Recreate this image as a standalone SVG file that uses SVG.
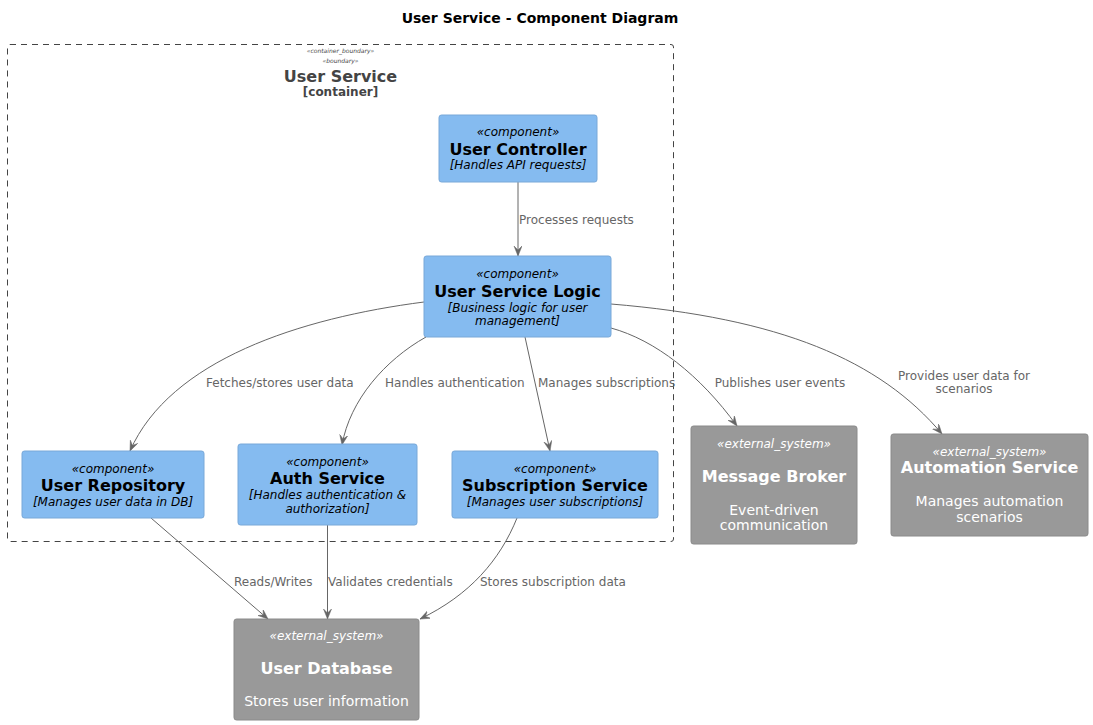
<svg xmlns="http://www.w3.org/2000/svg" width="1093" height="725" viewBox="0 0 1093 725">
<style>
text{font-family:"DejaVu Sans","Liberation Sans",sans-serif}
.comp{fill:#85BBF0;stroke:#78A8D8;stroke-width:1}
.ext{fill:#999999;stroke:#8A8A8A;stroke-width:1}
.st{font-size:12px;font-style:italic;text-anchor:middle}
.nm{font-size:16px;font-weight:bold;text-anchor:middle}
.ds{font-size:12px;font-style:italic;text-anchor:middle}
.dx{font-size:14px;text-anchor:middle}
.b{fill:#000}
.w{fill:#FFFFFF}
.edge{fill:none;stroke:#666666;stroke-width:1}
.lbl{font-size:12px;fill:#666666}
</style>
<defs>
<marker id="arr" markerWidth="11" markerHeight="9" refX="10" refY="4" orient="auto" markerUnits="userSpaceOnUse">
<path d="M0,0 L10,4 L0,8 L4,4 Z" fill="#666666" stroke="#666666" stroke-width="0.5"/>
</marker>
</defs>
<rect width="1093" height="725" fill="#FFFFFF"/>
<text x="540" y="23" style="font-size:14px;font-weight:bold;text-anchor:middle" fill="#000">User Service - Component Diagram</text>

<g id="boundary">
<rect x="7.5" y="44.5" width="666" height="497" rx="2.5" fill="none" stroke="#444444" stroke-dasharray="6,5"/>
<text x="340.5" y="52.5" style="font-size:6px;font-style:italic;text-anchor:middle" fill="#444444">«container_boundary»</text>
<text x="340.5" y="62.5" style="font-size:6px;font-style:italic;text-anchor:middle" fill="#444444">«boundary»</text>
<text x="340.5" y="82" style="font-size:16px;font-weight:bold;text-anchor:middle" fill="#444444">User Service</text>
<text x="340.5" y="96" style="font-size:12px;font-weight:bold;text-anchor:middle" fill="#444444">[container]</text>
</g>

<g id="connectors">
<path class="edge" d="M518,182 L518,256" marker-end="url(#arr)"/>
<text class="lbl" x="519" y="224">Processes requests</text>
<path class="edge" d="M424,302 C300,318 170,360 130,451" marker-end="url(#arr)"/>
<text class="lbl" x="206" y="387">Fetches/stores user data</text>
<path class="edge" d="M426,337 C385,360 350,400 342,445" marker-end="url(#arr)"/>
<text class="lbl" x="385" y="387">Handles authentication</text>
<path class="edge" d="M525,337 L550,451" marker-end="url(#arr)"/>
<text class="lbl" x="538" y="387">Manages subscriptions</text>
<path class="edge" d="M611,328 C655,340 700,375 737,426" marker-end="url(#arr)"/>
<text class="lbl" x="780" y="387" text-anchor="middle">Publishes user events</text>
<path class="edge" d="M611,304 C780,318 880,360 942,434" marker-end="url(#arr)"/>
<text class="lbl" x="964" y="380" text-anchor="middle">Provides user data for</text>
<text class="lbl" x="964" y="393" text-anchor="middle">scenarios</text>
<path class="edge" d="M151,518 L268,619" marker-end="url(#arr)"/>
<text class="lbl" x="234" y="586">Reads/Writes</text>
<path class="edge" d="M327.5,525 L327.5,619" marker-end="url(#arr)"/>
<text class="lbl" x="328" y="586">Validates credentials</text>
<path class="edge" d="M517,518 C500,560 470,595 420,619" marker-end="url(#arr)"/>
<text class="lbl" x="480" y="586">Stores subscription data</text>
</g>

<g id="user_controller">
<rect class="comp" x="439" y="115" width="158" height="67" rx="2.5"/>
<text class="st b" x="518" y="136">«component»</text>
<text class="nm b" x="518" y="155">User Controller</text>
<text class="ds b" x="518" y="168.5">[Handles API requests]</text>
</g>

<g id="user_service_logic">
<rect class="comp" x="424" y="256" width="187" height="81" rx="2.5"/>
<text class="st b" x="517.5" y="278">«component»</text>
<text class="nm b" x="517.5" y="296.5">User Service Logic</text>
<text class="ds b" x="517.5" y="311.5">[Business logic for user</text>
<text class="ds b" x="517.5" y="325">management]</text>
</g>

<g id="user_repository">
<rect class="comp" x="22" y="451" width="182" height="67" rx="2.5"/>
<text class="st b" x="113" y="473">«component»</text>
<text class="nm b" x="113" y="491">User Repository</text>
<text class="ds b" x="113" y="506">[Manages user data in DB]</text>
</g>

<g id="auth_service">
<rect class="comp" x="238" y="444" width="179" height="81" rx="2.5"/>
<text class="st b" x="327.5" y="466">«component»</text>
<text class="nm b" x="327.5" y="484">Auth Service</text>
<text class="ds b" x="327.5" y="499">[Handles authentication &amp;</text>
<text class="ds b" x="327.5" y="513">authorization]</text>
</g>

<g id="subscription_service">
<rect class="comp" x="452" y="451" width="206" height="67" rx="2.5"/>
<text class="st b" x="555" y="473">«component»</text>
<text class="nm b" x="555" y="491">Subscription Service</text>
<text class="ds b" x="555" y="506">[Manages user subscriptions]</text>
</g>

<g id="message_broker">
<rect class="ext" x="691" y="426" width="166" height="118" rx="2.5"/>
<text class="st w" x="774" y="448">«external_system»</text>
<text class="nm w" x="774" y="482">Message Broker</text>
<text class="dx w" x="774" y="515">Event-driven</text>
<text class="dx w" x="774" y="530">communication</text>
</g>

<g id="automation_service">
<rect class="ext" x="891" y="434" width="197" height="102" rx="2.5"/>
<text class="st w" x="989.5" y="456">«external_system»</text>
<text class="nm w" x="989.5" y="473">Automation Service</text>
<text class="dx w" x="989.5" y="506">Manages automation</text>
<text class="dx w" x="989.5" y="522">scenarios</text>
</g>

<g id="user_database">
<rect class="ext" x="234" y="619" width="185" height="101" rx="2.5"/>
<text class="st w" x="326.5" y="640">«external_system»</text>
<text class="nm w" x="326.5" y="674">User Database</text>
<text class="dx w" x="326.5" y="706">Stores user information</text>
</g>
</svg>
